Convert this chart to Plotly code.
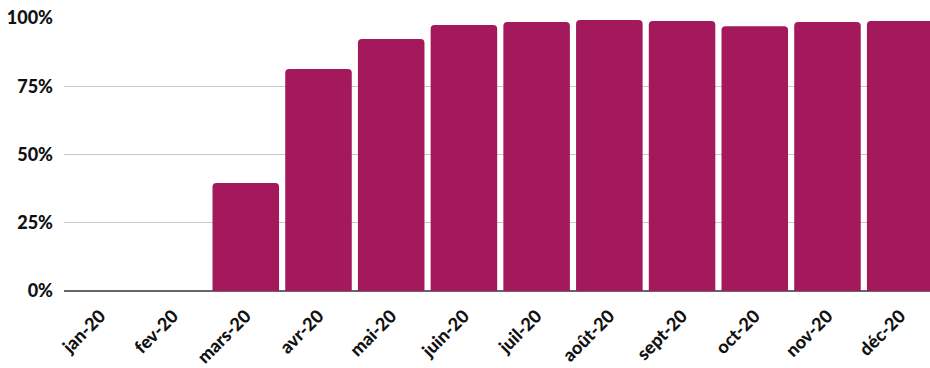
import plotly.graph_objects as go

months = ["jan-20", "fev-20", "mars-20", "avr-20", "mai-20", "juin-20",
          "juil-20", "août-20", "sept-20", "oct-20", "nov-20", "déc-20"]
values = [0, 0, 39.6, 81.3, 92.3, 97.4, 98.5, 99.3, 98.9, 97.0, 98.5, 98.9]

fig = go.Figure(go.Bar(
    x=months, y=values,
    marker=dict(color="#A3195B", cornerradius=4, line=dict(width=0)),
    hoverinfo="skip",
))

fig.update_layout(
    width=930, height=368,
    margin=dict(l=64, r=0, t=18, b=77),
    paper_bgcolor="white", plot_bgcolor="white",
    bargap=0.085,
    showlegend=False,
    font=dict(family="Lato", size=17, color="#111"),
    xaxis=dict(
        range=[-0.5, 11.41],
        tickangle=-45,
        tickfont=dict(family="Lato", size=18, weight=900, color="#111"),
        showgrid=False, showline=False, ticks="",
        automargin=False,
        ticklabelstandoff=10,
    ),
    yaxis=dict(
        range=[0, 100],
        tickvals=[0, 25, 50, 75, 100],
        ticktext=["0%", "25%", "50%", "75%", "100%"],
        tickfont=dict(family="Lato", size=18, weight=900, color="#111"),
        showgrid=True, gridcolor="#c8c8c8", gridwidth=1,
        zeroline=True, zerolinecolor="#666", zerolinewidth=1.5,
        ticklabelstandoff=10,
        showline=False, ticks="",
        automargin=False,
    ),
)

fig.write_html(
    "out.html",
    config={"displayModeBar": False},
    post_script="document.body.style.margin='0';document.body.style.overflow='hidden';",
)
